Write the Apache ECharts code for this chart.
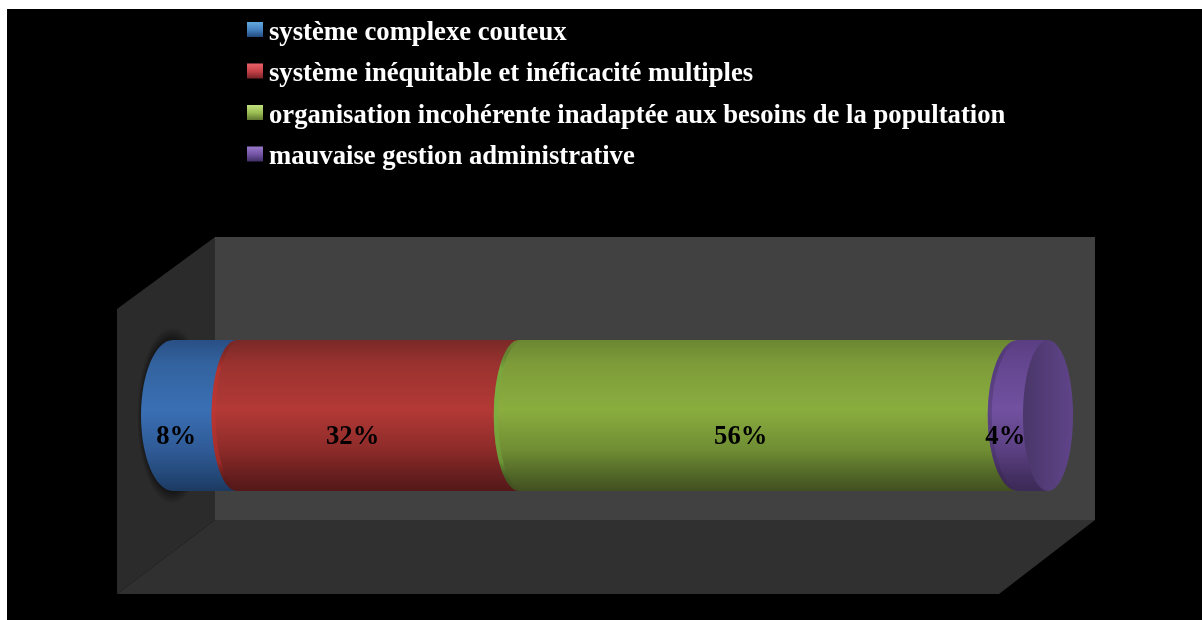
<!DOCTYPE html>
<html lang="fr">
<head>
<meta charset="utf-8">
<title>Défauts du système</title>
<style>
  html, body { margin: 0; padding: 0; background: #fff; }
  #chart { width: 1202px; height: 620px; }
</style>
<script src="https://cdn.jsdelivr.net/npm/echarts@6/dist/echarts.min.js"></script>
</head>
<body>
<div id="chart"></div>
<script>
// Répartition des réponses, en pourcentage
const categories = [
  'système complexe couteux',
  'système inéquitable et inéficacité multiples',
  'organisation incohérente inadaptée aux besoins de la popultation',
  'mauvaise gestion administrative'
];
const shares = [8, 32, 56, 4];

// Vertical shading of each cylinder slice: [offset, colour]
const sliceShades = [
  [[0, '#294f85'], [0.16, '#33639f'], [0.46, '#3a6fb4'], [0.73, '#2f5a96'], [0.9, '#234877'], [1, '#1c3a62']],
  [[0, '#7a2927'], [0.16, '#9a322f'], [0.46, '#b33936'], [0.73, '#8c2b29'], [0.9, '#661e1e'], [1, '#541818']],
  [[0, '#6b8732'], [0.16, '#7d9c39'], [0.46, '#8aad3f'], [0.73, '#6f8d33'], [0.9, '#506527'], [1, '#434f20']],
  [[0, '#5a3e82'], [0.16, '#644690'], [0.46, '#7151a0'], [0.73, '#5b4082'], [0.9, '#453063'], [1, '#3c2a57']]
];
const rimColours = ['rgba(0,0,0,0)', 'rgba(205,50,45,0.4)', 'rgba(115,175,65,0.5)', 'rgba(60,42,90,0.35)'];
const legendShades = [
  ['#62a8e0', '#4480bf', '#234a7c'],
  ['#e8606a', '#c44146', '#772327'],
  ['#c0e07c', '#9abc52', '#5f7730'],
  ['#9a7acb', '#7353a3', '#402f66']
];
// Half-width of the curved front edge of each slice, and of the closing cap
const edgeWidths = [32, 25, 25, 30];
const capWidth = 25;
const baseWidth = 25;

const serif = '"Liberation Serif", "Times New Roman", serif';

const vertical = stops => new echarts.graphic.LinearGradient(0, 0, 0, 1,
  stops.map(s => ({ offset: s[0], color: s[1] })));

// Running totals give the start and end of each slice along the tube
const starts = shares.map((_, i) => shares.slice(0, i).reduce((a, b) => a + b, 0));

function rimPath(x0, cy, ry, rx) {
  const k = 0.5523;
  const c = x0 - baseWidth + rx;
  return `M ${c} ${cy - ry}` +
    ` C ${c - rx * k} ${cy - ry} ${c - rx} ${cy - ry * k} ${c - rx} ${cy}` +
    ` C ${c - rx} ${cy + ry * k} ${c - rx * k} ${cy + ry} ${c} ${cy + ry}`;
}

function slicePath(x0, x1, cy, ry, rx) {
  return rimPath(x0, cy, ry, rx) + ` L ${x1} ${cy + ry} L ${x1} ${cy - ry} Z`;
}

function renderSlice(index) {
  return function (params, api) {
    const from = api.coord([api.value(0), 0]);
    const to = api.coord([api.value(1), 0]);
    const ry = api.size([0, 1])[1] / 2;
    const cy = from[1];
    const rx = edgeWidths[index];
    const last = index === shares.length - 1;
    const children = [];
    if (index === 0) {
      // Soft dark halo where the tube meets the side wall
      const haloX = from[0] - baseWidth + rx - 1;
      const haloR = ry + 13;
      children.push({
        type: 'circle',
        shape: { cx: 0, cy: 0, r: haloR },
        x: haloX,
        y: cy,
        scaleX: (rx + 3) / haloR,
        style: {
          fill: new echarts.graphic.RadialGradient(0.5, 0.5, 0.5, [
            { offset: 0, color: 'rgba(0,0,0,0.5)' },
            { offset: ry / haloR, color: 'rgba(0,0,0,0.5)' },
            { offset: 1, color: 'rgba(0,0,0,0)' }
          ])
        },
        silent: true
      });
    }
    children.push({
      type: 'path',
      shape: { pathData: slicePath(from[0], to[0] + (last ? 0 : baseWidth), cy, ry, rx) },
      style: { fill: vertical(sliceShades[index]) }
    }, {
      type: 'path',
      x: 2,
      shape: { pathData: rimPath(from[0], cy, ry, rx) },
      style: {
        fill: 'none',
        lineWidth: 4,
        stroke: new echarts.graphic.LinearGradient(0, 0, 0, 1, [
          { offset: 0.02, color: 'rgba(0,0,0,0)' },
          { offset: 0.2, color: rimColours[index] },
          { offset: 0.8, color: rimColours[index] },
          { offset: 0.98, color: 'rgba(0,0,0,0)' }
        ])
      },
      silent: true
    });
    if (last) {
      children.push({
        type: 'ellipse',
        shape: { cx: to[0], cy: cy, rx: capWidth, ry: ry },
        style: {
          fill: new echarts.graphic.LinearGradient(0, 0, 1, 0, [
            { offset: 0, color: '#4a3669' }, { offset: 1, color: '#5f4489' }
          ])
        }
      });
    }
    children.push({
      type: 'text',
      z2: 100,
      style: {
        text: shares[index] + '%',
        x: (from[0] + to[0]) / 2 - baseWidth,
        y: cy + 22,
        align: 'center',
        verticalAlign: 'middle',
        fill: '#000',
        font: 'bold 26.67px ' + serif
      }
    });
    return { type: 'group', children };
  };
}

const chart = echarts.init(document.getElementById('chart'), null, { renderer: 'canvas' });

chart.setOption({
  animation: false,
  backgroundColor: '#fff',
  grid: { left: 166, right: 154, top: 340, height: 151 },
  xAxis: { type: 'value', min: 0, max: 100, show: false },
  yAxis: { type: 'category', data: ['réponses'], show: false },
  legend: {
    orient: 'vertical',
    left: 242,
    top: 13,
    itemWidth: 16,
    itemHeight: 22,
    itemGap: 11.5,
    // Square swatch sitting slightly above the text's middle line
    icon: 'path://M0 0 L16 0 L16 15 L0 15 Z M0 22 L0 22 Z',
    selectedMode: false,
    z: 5,
    data: categories.map((name, i) => ({
      name,
      itemStyle: {
        color: new echarts.graphic.LinearGradient(0, 0, 0, 1, [
          { offset: 0, color: legendShades[i][0] },
          { offset: 0.36, color: legendShades[i][1] },
          { offset: 0.68, color: legendShades[i][2] }
        ])
      }
    })),
    textStyle: {
      color: '#fff',
      fontFamily: serif,
      fontWeight: 'bold',
      fontSize: 26.67,
      lineHeight: 30,
      padding: [0, 0, 0, 1]
    }
  },
  // Black plate and the walls of the 3D box behind the tube
  graphic: {
    elements: [
      { type: 'rect', z: -10, shape: { x: 7, y: 9, width: 1195, height: 611 }, style: { fill: '#000' }, silent: true },
      { type: 'polygon', z: -9, shape: { points: [[215, 237], [1095, 237], [1095, 520], [215, 520]] }, style: { fill: '#414141' }, silent: true },
      { type: 'polygon', z: -9, shape: { points: [[117, 309], [215, 237], [215, 520], [117, 594]] }, style: { fill: '#2b2b2b' }, silent: true },
      { type: 'polygon', z: -9, shape: { points: [[215, 520], [1095, 520], [999, 594], [117, 594]] }, style: { fill: '#303030' }, silent: true }
    ]
  },
  series: categories.map((name, i) => ({
    name,
    type: 'custom',
    z: 10 + i,
    renderItem: renderSlice(i),
    encode: { x: [0, 1], y: 2 },
    itemStyle: { color: sliceShades[i][2][1] },
    data: [[starts[i], starts[i] + shares[i], 0]],
    clip: false
  }))
});
</script>
</body>
</html>
